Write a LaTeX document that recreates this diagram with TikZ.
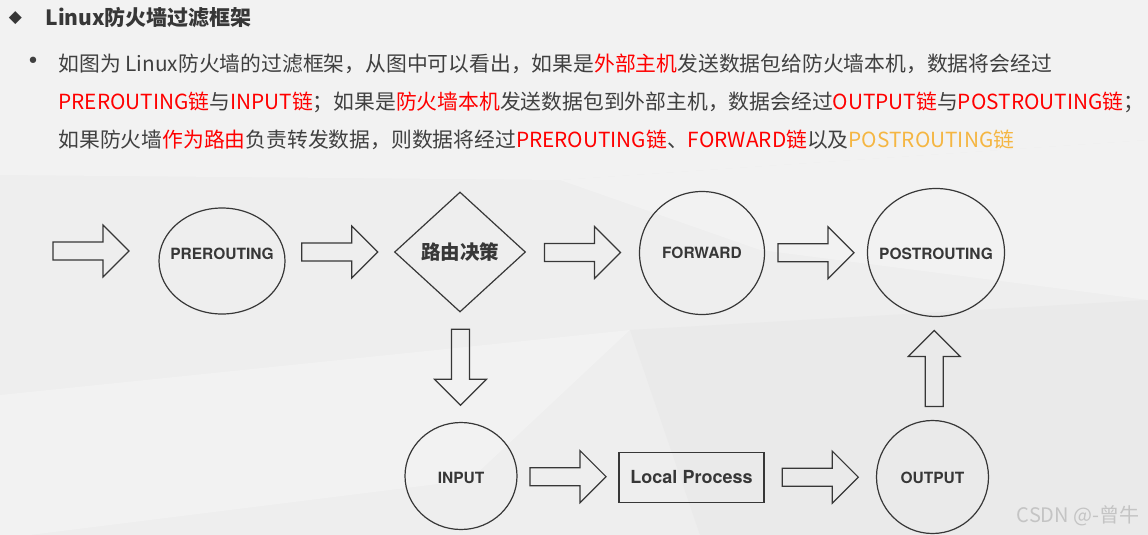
\documentclass[tikz,border=0pt]{standalone}
\usepackage{fontspec}
\usetikzlibrary{shapes.geometric,calc}
\setmainfont{Noto Sans CJK SC}
\newfontfamily\heros{TeX Gyre Heros}
\newfontfamily\symfont{DejaVu Sans}

\definecolor{bggray}{RGB}{238,238,238}
\definecolor{bglight}{RGB}{242,242,242}
\definecolor{bgdark}{RGB}{234,234,234}
\definecolor{inkgray}{RGB}{55,55,55}
\definecolor{txtgray}{RGB}{64,64,64}
\definecolor{hired}{RGB}{255,0,0}
\definecolor{higold}{RGB}{245,182,66}
\definecolor{wmgray}{RGB}{196,196,196}

\newcommand{\redtxt}[1]{\textcolor{hired}{#1}}
\newcommand{\goldtxt}[1]{\textcolor{higold}{#1}}

\tikzset{
  flowline/.style={draw=inkgray, line width=1.2pt},
  chain/.style={ellipse, flowline, inner sep=0pt},
  chaintext/.style={text=inkgray, inner sep=0pt,
    font=\heros\bfseries\fontsize{15.5}{18}\selectfont},
  decision/.style={diamond, flowline, inner sep=0pt, text=inkgray,
    minimum width=131, minimum height=120,
    font=\bfseries\fontsize{19.5}{22}\selectfont},
  process/.style={rectangle, flowline, inner sep=0pt, text=inkgray,
    minimum width=145, minimum height=50,
    font=\heros\bfseries\fontsize{18}{20}\selectfont},
  bodyline/.style={anchor=base west, text=txtgray,
    font=\fontsize{20.8}{24}\selectfont},
  fatarrow/.pic={
    \draw[flowline] (-38,-9) -- (12,-9) -- (12,-26) -- (38,0)
      -- (12,26) -- (12,9) -- (-38,9) -- cycle;
  }
}

\begin{document}
\begin{tikzpicture}[x=1pt, y=-1pt]
  % background
  \fill[bggray] (0,0) rectangle (1148,535);
  \fill[bglight] (0,0) -- (1148,0) -- (1148,140) -- (560,180) -- (0,175) -- cycle;
  \fill[bglight] (560,180) -- (1148,140) -- (1148,300) -- (760,250) -- cycle;
  \fill[bglight] (0,395) -- (630,330) -- (470,480) -- (30,535) -- (0,535) -- cycle;
  \fill[bgdark] (630,330) -- (1148,300) -- (1148,535) -- (700,535) -- cycle;
  \useasboundingbox (0,0) rectangle (1148,535);

  % heading and text
  \node[font=\symfont\fontsize{17}{17}\selectfont, text=inkgray] (diam) at (15.5,18) {◆};
  \node[anchor=base west, text=inkgray, font=\bfseries\fontsize{21}{24}\selectfont]
    (title) at (42,26) {Linux防火墙过滤框架};
  \node[font=\symfont\fontsize{22}{22}\selectfont, text=txtgray] (dot) at (33,63) {•};
  \node[bodyline] (line1) at (55,71)
    {如图为 Linux防火墙的过滤框架，从图中可以看出，如果是\redtxt{外部主机}发送数据包给防火墙本机，数据将会经过};
  \node[bodyline] (line2) at (55,109)
    {\redtxt{PREROUTING链}与\redtxt{INPUT链}；如果是\redtxt{防火墙本机}发送数据包到外部主机，数据会经过\redtxt{OUTPUT链}与\redtxt{POSTROUTING链}；};
  \node[bodyline] (line3) at (55,147)
    {如果防火墙\redtxt{作为路由}负责转发数据，则数据将经过\redtxt{PREROUTING链}、\redtxt{FORWARD链}以及\goldtxt{POSTROUTING链}};

  % chains
  \node[chain, minimum width=126, minimum height=106,
    label={[chaintext, yshift=7]center:PREROUTING}] (pre) at (222,261) {};
  \node[decision] (route) at (460,252) {路由决策};
  \node[chain, minimum width=125, minimum height=123,
    label={[chaintext]center:FORWARD}] (fwd) at (702,253) {};
  \node[chain, minimum width=137, minimum height=128,
    label={[chaintext, yshift=-1]center:POSTROUTING}] (post) at (936,252.5) {};
  \node[chain, minimum width=112, minimum height=107,
    label={[chaintext, yshift=-2]center:INPUT}] (in) at (461,476) {};
  \node[process] (local) at (691.5,477.3) {Local Process};
  \node[chain, minimum width=112, minimum height=113,
    label={[chaintext, yshift=-1]center:OUTPUT}] (out) at (932.5,477) {};
  \coordinate (src) at (91,251);

  % flow arrows
  \path ($(pre.east)!.5!(route.west)$) coordinate (m1);
  \pic at (src) {fatarrow};
  \pic at (m1 |- route) {fatarrow};
  \pic at ($(route.east)!.5!(fwd.west)$) {fatarrow};
  \pic at ($(fwd.east)!.5!(post.west)$) {fatarrow};
  \pic[rotate=-90] at ($(route.south)!.5!(in.north)$) {fatarrow};
  \pic at ($(in.east)!.5!(local.west)$) {fatarrow};
  \pic at ($(local.east)!.5!(out.west)$) {fatarrow};
  \pic[rotate=90] at ($(out.north)!.5!(post.south)$) {fatarrow};

  % watermark
  \node[anchor=base east, text=wmgray, font=\fontsize{20}{22}\selectfont]
    (wm) at (1143,522) {CSDN @-曾牛};
\end{tikzpicture}
\end{document}
